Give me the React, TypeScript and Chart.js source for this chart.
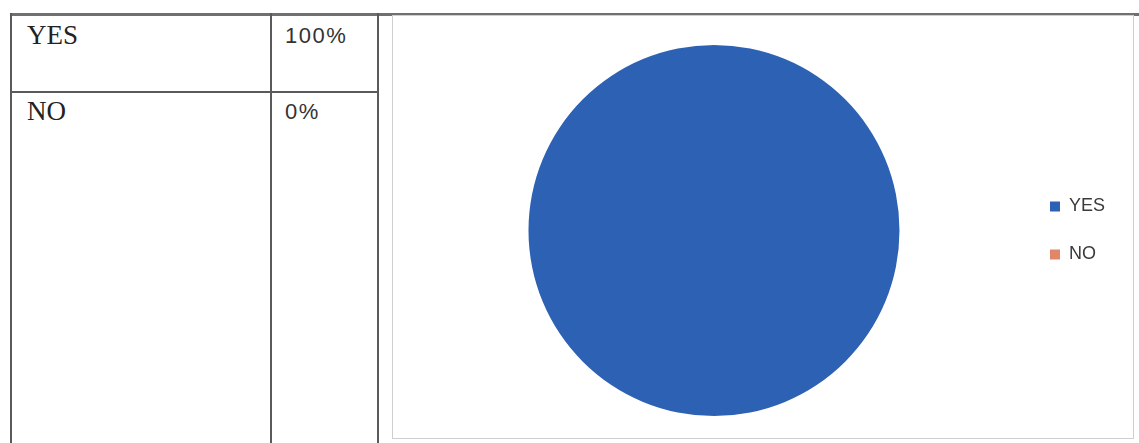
import React, { useEffect, useRef } from "react";
import { Chart, registerables } from "chart.js";

Chart.register(...registerables);

const categories = ["YES", "NO"];
const percentValues = [100, 0];
const tableValueLabels = ["100%", "0%"];
const sliceColors = ["#2d61b4", "#e0876a"];

const lineColor = "#5a5a5a";

function Line(props: { x: number; y: number; w: number; h: number; c?: string }) {
  return (
    <div
      style={{
        position: "absolute",
        left: props.x,
        top: props.y,
        width: props.w,
        height: props.h,
        background: props.c || lineColor,
      }}
    />
  );
}

export default function App() {
  const ref = useRef<HTMLCanvasElement | null>(null);

  useEffect(() => {
    if (!ref.current) return;
    const chart = new Chart(ref.current, {
      type: "pie",
      data: {
        labels: categories,
        datasets: [
          {
            data: percentValues,
            backgroundColor: sliceColors,
            borderWidth: 0,
          },
        ],
      },
      options: {
        animation: false,
        responsive: false,
        maintainAspectRatio: false,
        layout: { padding: { left: 14, right: 17, top: 29, bottom: 21 } },
        plugins: {
          tooltip: { enabled: false },
          legend: {
            position: "right",
            labels: {
              boxWidth: 10,
              boxHeight: 10,
              padding: 30,
              color: "#3a3a3a",
              font: { family: "'Liberation Sans', Arial, sans-serif", size: 18 },
            },
          },
        },
      },
    });
    return () => chart.destroy();
  }, []);

  const serif = "'Liberation Serif', 'Times New Roman', serif";
  const sans = "'Liberation Sans', Arial, sans-serif";

  return (
    <div
      style={{
        position: "fixed",
        left: 0,
        top: 0,
        width: 1139,
        height: 443,
        background: "#fff",
        overflow: "hidden",
      }}
    >
      {/* table lines */}
      <Line x={11} y={13} w={1128} h={3} c="#707070" />
      <Line x={10} y={13} w={2} h={430} />
      <Line x={270} y={13} w={2} h={430} />
      <Line x={377} y={13} w={2} h={430} />
      <Line x={10} y={91} w={369} h={2} />

      {/* table text */}
      <div style={{ position: "absolute", left: 27, top: 20, fontFamily: serif, fontSize: 27, color: "#222", lineHeight: "30px" }}>
        {categories[0]}
      </div>
      <div style={{ position: "absolute", left: 285, top: 23, fontFamily: sans, fontSize: 22, color: "#333", lineHeight: "26px", letterSpacing: 1.5 }}>
        {tableValueLabels[0]}
      </div>
      <div style={{ position: "absolute", left: 27, top: 96, fontFamily: serif, fontSize: 27, color: "#222", lineHeight: "30px" }}>
        {categories[1]}
      </div>
      <div style={{ position: "absolute", left: 285, top: 99, fontFamily: sans, fontSize: 22, color: "#333", lineHeight: "26px", letterSpacing: 1.5 }}>
        {tableValueLabels[1]}
      </div>

      {/* chart frame */}
      <div
        style={{
          position: "absolute",
          left: 392,
          top: 15,
          width: 740,
          height: 422,
          border: "1px solid #cfcfcf",
        }}
      />
      <canvas
        ref={ref}
        width={738}
        height={421}
        style={{ position: "absolute", left: 394, top: 16, width: 738, height: 421 }}
      />
    </div>
  );
}
